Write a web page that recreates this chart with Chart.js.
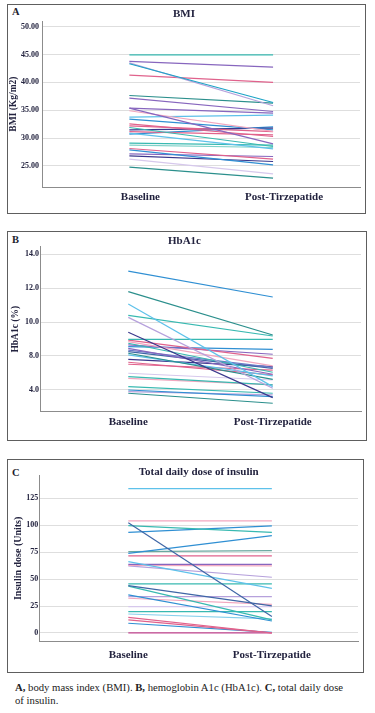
<!DOCTYPE html>
<html><head><meta charset="utf-8">
<script src="https://cdn.jsdelivr.net/npm/chart.js@4/dist/chart.umd.min.js"></script>
<style>
html,body{margin:0;padding:0;background:#fff;}
body{width:375px;height:713px;position:relative;overflow:hidden;font-family:"Liberation Serif",serif;}
.box{position:absolute;border:1.3px solid #5e5e5e;box-sizing:border-box;}
.cv{position:absolute;}
.lt{position:absolute;font-weight:bold;font-size:10.5px;color:#1e1e2e;line-height:12px;}
.cap{position:absolute;left:15px;top:681px;font-size:10.7px;line-height:12.5px;color:#222;white-space:nowrap;}
</style></head><body>
<div class="box" style="left:7px;top:4px;width:359px;height:210px"></div>
<div class="box" style="left:7px;top:231px;width:360px;height:210px"></div>
<div class="box" style="left:7px;top:459px;width:357px;height:214px"></div>
<div class="lt" style="left:12px;top:6px">A</div>
<div class="lt" style="left:12px;top:234px">B</div>
<div class="lt" style="left:12px;top:467px">C</div>
<canvas id="cA" class="cv" width="356" height="206" style="left:8px;top:6px;width:356px;height:206px"></canvas>
<canvas id="cB" class="cv" width="358" height="207" style="left:8px;top:232px;width:358px;height:207px"></canvas>
<canvas id="cC" class="cv" width="355" height="211" style="left:8px;top:460px;width:355px;height:211px"></canvas>
<div class="cap"><b>A,</b> body mass index (BMI). <b>B,</b> hemoglobin A1c (HbA1c). <b>C,</b> total daily dose<br>of insulin.</div>
<script>
// ---- data ----
const categories = ['Baseline', 'Post-Tirzepatide'];

const bmiBaseline = [44.96,43.77,43.35,43.5,41.31,37.65,37.17,35.37,35.37,34.9,33.75,33.39,32.55,32.19,31.89,31.47,31.17,30.87,30.69,29.08,28.72,28.12,27.88,27.16,26.8,26.2,24.76];
const bmiPost     = [44.96,42.75,36.39,35.8,39.99,36.27,34.77,28.96,34.47,31.2,34.11,31.47,30.28,31.17,28.48,31.77,30.58,28.06,32.0,28.72,28.3,26.2,25.18,26.68,25.78,23.56,22.78];
const bmiTickValues = [25,30,35,40,45,50];
const bmiTickLabels = ['25.00','30.00','35.00','40.00','45.00','50.00'];

const hbBaseline = [13.01,11.8,11.07,10.4,10.28,9.4,8.98,8.94,8.85,8.75,8.65,8.55,8.45,8.35,8.26,8.16,8.06,7.8,7.63,7.51,6.98,6.78,6.68,6.19,5.99,5.9,5.8];
const hbPost     = [11.48,9.24,6.19,9.18,6.09,5.54,8.98,7.86,7.41,7.04,8.1,8.39,6.92,7.33,7.27,6.62,6.82,7.37,6.88,7.17,6.58,6.29,6.29,5.8,5.6,5.7,5.21];
const hbTickValues = [6,8,10,12,14];
const hbTickLabels = ['4.0','8.0','10.0','12.0','14.0'];

const insBaseline = [134,104,102.4,99.6,93.4,73.9,75.5,71.5,66.2,63.7,62.8,62.2,45.5,43.9,43.5,35.3,33.7,32.2,24.4,19.8,17.6,14.5,12.1,9.0,0];
const insPost     = [134,104,15.2,93.4,99.3,90.3,76.4,71.5,41.4,63.7,62.2,51.7,45.5,25.1,12.1,11.1,33.7,26.6,24.4,19.8,13.0,0,0,0.5,0];
const insTickValues = [0,25,50,75,100,125];
const insTickLabels = ['0','25','50','75','100','125'];

// ---- styles ----
const P = {teal:'#38b9b1', tealDark:'#2b8f8c', tealLight:'#7fd2c9', purple:'#8766be', lavender:'#b6a1dc', lavLight:'#d6c8ec',
  pink:'#e0628c', pinkLight:'#f2a7bf', blueLight:'#5ec1ea', blue:'#2f8fd3', navy:'#3b378c', steel:'#3f66a6', magenta:'#c2448f', tealBlue:'#1ca3c6'};
const bmiColors = [P.teal,P.purple,P.tealBlue,P.lavender,P.pink,P.tealDark,P.purple,P.purple,P.purple,P.pinkLight,P.blueLight,P.blue,P.pink,P.pink,P.teal,P.navy,P.pink,P.blueLight,P.blue,P.teal,P.tealLight,P.pink,P.blue,P.purple,P.navy,P.lavLight,P.tealDark];
const hbColors = [P.blue,P.tealDark,P.blueLight,P.teal,P.lavender,P.navy,P.teal,P.pink,P.pinkLight,P.teal,P.purple,P.blue,P.purple,'#6a7ac8',P.steel,P.tealDark,P.blueLight,P.navy,P.pink,P.pink,P.lavLight,P.teal,P.pinkLight,P.teal,P.blue,P.lavender,P.tealDark];
const insColors = [P.blueLight,P.pinkLight,P.steel,P.teal,P.blue,P.blue,'#6aa8a0',P.pink,P.blueLight,P.purple,P.pinkLight,P.lavender,P.teal,P.steel,P.teal,P.blue,P.lavender,P.pinkLight,P.lavLight,P.teal,'#88d0ec',P.pink,P.pink,P.blue,P.magenta];

const TXT = '#23233f';
function makeChart(id, cfg) {
  const datasets = cfg.base.map((b, i) => ({
    data: [{x:0, y:b}, {x:1, y:cfg.post[i]}],
    borderColor: cfg.colors[i % cfg.colors.length],
    borderWidth: 1.2, pointRadius: 0, tension: 0
  }));
  return new Chart(document.getElementById(id), {
    type: 'line',
    data: { datasets },
    options: {
      responsive: false, animation: false, devicePixelRatio: 1,
      layout: { padding: { left: 0, right: cfg.padRight, top: 0, bottom: 0 } },
      plugins: {
        legend: { display: false }, tooltip: { enabled: false },
        title: { display: true, text: cfg.title, color: TXT, fullSize: cfg.titleFull,
          font: { family: 'Liberation Serif', weight: 'bold', size: 11 }, padding: cfg.titlePad }
      },
      scales: {
        x: {
          type: 'linear', min: cfg.xmin, max: cfg.xmax,
          afterBuildTicks: s => { s.ticks = [{value:0},{value:1}]; },
          afterFit: s => { s.height = cfg.xHeight; },
          grid: { display: false, drawTicks: false },
          border: { display: true, color: '#8c8c8c', width: 1 },
          ticks: { color: TXT, padding: cfg.xPad, labelOffset: cfg.labelOffset || 0, maxRotation: 0, autoSkip: false,
            font: { family: 'Liberation Serif', weight: 'bold', size: 11 },
            callback: (v, i) => categories[i] }
        },
        y: {
          type: 'linear', min: cfg.ymin, max: cfg.ymax,
          afterBuildTicks: s => { s.ticks = cfg.tickValues.map(v => ({value: v})); },
          afterFit: s => { s.width = cfg.yWidth; },
          grid: { color: '#dedede', lineWidth: 1, drawTicks: false },
          border: { display: true, color: '#8c8c8c', width: 1 },
          ticks: { color: TXT, padding: cfg.yPad, autoSkip: false,
            font: { family: 'Liberation Serif', weight: 'bold', size: 8 },
            callback: (v, i) => cfg.tickLabels[i] },
          title: { display: true, text: cfg.yTitle, color: TXT, padding: { top: cfg.yTitlePad, bottom: 0 },
            font: { family: 'Liberation Serif', weight: 'bold', size: cfg.yTitleSize } }
        }
      }
    }
  });
}

makeChart('cA', { base: bmiBaseline, post: bmiPost, colors: bmiColors, title: 'BMI', titlePad: {top: 2, bottom: 0}, titleFull: true,
  xmin: -0.608, xmax: 1.605, xHeight: 25, xPad: 4, labelOffset: 11, padRight: 4,
  ymin: 21.2, ymax: 51, tickValues: bmiTickValues, tickLabels: bmiTickLabels, yWidth: 34, yPad: 3,
  yTitle: 'BMI (Kg/m2)', yTitlePad: 0, yTitleSize: 9.5 });

makeChart('cB', { base: hbBaseline, post: hbPost, colors: hbColors, title: 'HbA1c', titlePad: {top: 3, bottom: -1.5}, titleFull: true,
  xmin: -0.611, xmax: 1.611, xHeight: 27.3, xPad: 4, padRight: 5,
  ymin: 4.71, ymax: 14.45, tickValues: hbTickValues, tickLabels: hbTickLabels, yWidth: 32, yPad: 1,
  yTitle: 'HbA1c (%)', yTitlePad: 2.3, yTitleSize: 9.5 });

makeChart('cC', { base: insBaseline, post: insPost, colors: insColors, title: 'Total daily dose of insulin', titlePad: {top: 6, bottom: -4.2}, titleFull: false,
  xmin: -0.62, xmax: 1.60, xHeight: 29.3, xPad: 7, padRight: 5,
  ymin: -8.1, ymax: 146.6, tickValues: insTickValues, tickLabels: insTickLabels, yWidth: 31.3, yPad: 1,
  yTitle: 'Insulin dose (Units)', yTitlePad: 4, yTitleSize: 10 });
</script>
</body></html>
